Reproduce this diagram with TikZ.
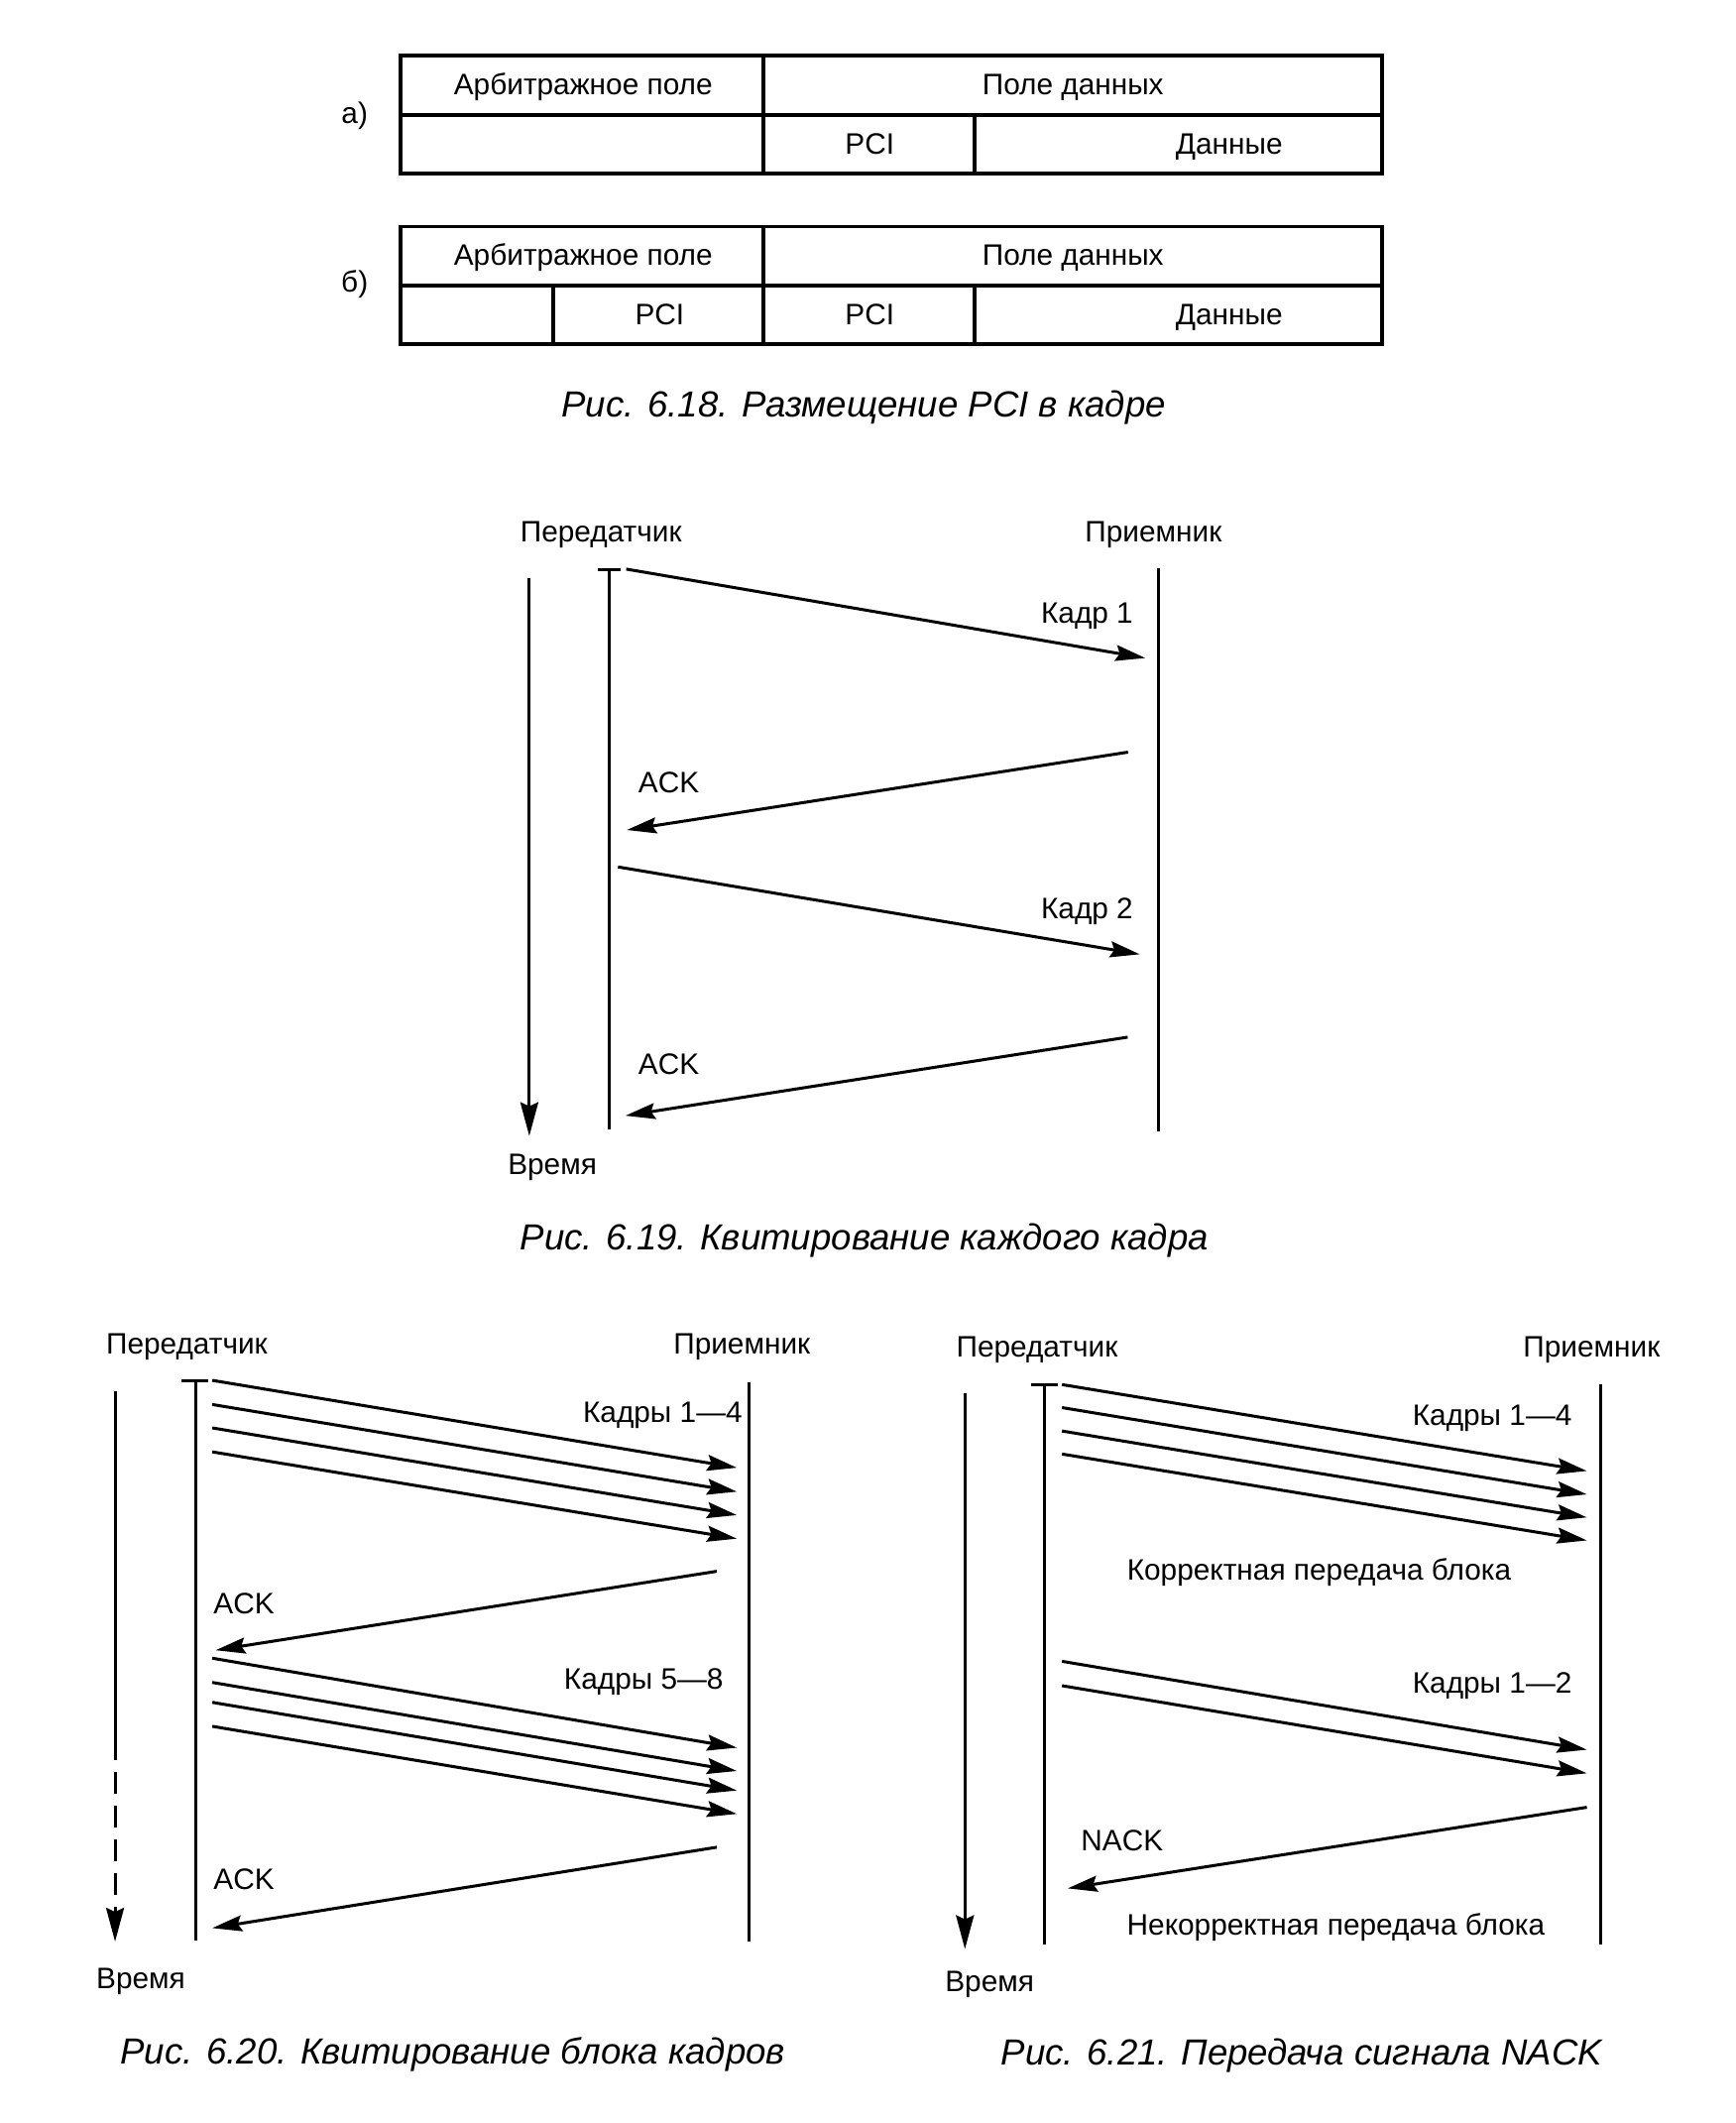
\documentclass[tikz,border=0pt]{standalone}
\usepackage{fontspec}
\setmainfont{Liberation Sans}
\usetikzlibrary{arrows.meta}
\begin{document}
\begin{tikzpicture}[x=1.3651pt,y=-1.3651pt,
  lbl/.style={font=\fontsize{29.8}{36}\selectfont, inner sep=0pt, text height=0.716em, text depth=0pt, yshift=-6.5pt},
  capt/.style={font=\fontsize{36.6}{44}\selectfont\itshape, inner sep=0pt, text height=0.716em, text depth=0pt, yshift=-9pt},
  ln/.style={line width=3pt},
  arr/.style={line width=3pt, -{Stealth[length=30pt,width=16pt,inset=4pt]}},
  tarr/.style={line width=3pt, -{Stealth[length=34pt,width=18pt,inset=4pt]}},
  tbl/.style={line width=3.8pt}]
\useasboundingbox (0,0) rectangle (1282,1568);

% ---------- Fig 6.18 ----------
\draw[tbl] (295.7,40.8) rectangle (1021.2,128.2);
\draw[tbl] (295.7,85) -- (1021.2,85);
\draw[tbl] (564,40.8) -- (564,128.2);
\draw[tbl] (719.7,85) -- (719.7,128.2);
\node[lbl] (la) at (262,84) {а)};
\node[lbl] (a11) at (430.8,62.3) {Арбитражное поле};
\node[lbl] (a12) at (792.6,62.3) {Поле данных};
\node[lbl] (a21) at (642.5,106.5) {PCI};
\node[lbl] (a22) at (908,106.5) {Данные};

\draw[tbl] (295.7,167.3) rectangle (1021.2,254);
\draw[tbl] (295.7,211.2) -- (1021.2,211.2);
\draw[tbl] (564,167.3) -- (564,254);
\draw[tbl] (408.8,211.2) -- (408.8,254);
\draw[tbl] (719.7,211.2) -- (719.7,254);
\node[lbl] (lb) at (262,208) {б)};
\node[lbl] (b11) at (430.8,188.5) {Арбитражное поле};
\node[lbl] (b12) at (792.6,188.5) {Поле данных};
\node[lbl] (b20) at (487.3,232.5) {PCI};
\node[lbl] (b21) at (642.5,232.5) {PCI};
\node[lbl] (b22) at (908,232.5) {Данные};
\node[capt] (c18) at (638,299) {Рис. 6.18. Размещение PCI в кадре};

% ---------- Fig 6.19 ----------
\node[lbl] (t1) at (444,393) {Передатчик};
\node[lbl] (r1) at (852,393) {Приемник};
\coordinate (ta1) at (391,427);
\coordinate (tb1) at (391,839);
\draw[tarr] (ta1) -- (tb1);
\node[lbl] (v1) at (408,860) {Время};
\coordinate (s1t) at (450,420.5);
\coordinate (s1b) at (450,834);
\draw[ln] (s1t) -- (s1b);
\draw[ln] (441.8,420.5) -- (458.6,420.5);
\coordinate (q1t) at (856,420);
\coordinate (q1b) at (856,835.5);
\draw[ln] (q1t) -- (q1b);
\coordinate (k1s) at (462.6,420.3); \coordinate (k1e) at (846,486);
\draw[arr] (k1s) -- (k1e);
\node[lbl] (k1l) at (803,453) {Кадр 1};
\coordinate (a1s) at (833.3,555.5); \coordinate (a1e) at (463,613);
\draw[arr] (a1s) -- (a1e);
\node[lbl] (a1l) at (494,578) {ACK};
\coordinate (k2s) at (456.5,640.3); \coordinate (k2e) at (842,704.8);
\draw[arr] (k2s) -- (k2e);
\node[lbl] (k2l) at (803,671) {Кадр 2};
\coordinate (a2s) at (833,766); \coordinate (a2e) at (462,824);
\draw[arr] (a2s) -- (a2e);
\node[lbl] (a2l) at (494,786) {ACK};
\node[capt] (c19) at (638.5,914) {Рис. 6.19. Квитирование каждого кадра};

% ---------- Fig 6.20 ----------
\node[lbl] (t2) at (138,993) {Передатчик};
\node[lbl] (r2) at (548,993) {Приемник};
\coordinate (ta2) at (85,1027.5);
\coordinate (tm2) at (85,1284);
\coordinate (tb2) at (85,1434);
\draw[ln] (ta2) -- (tm2);
\draw[tarr, dash pattern=on 22pt off 12pt] (tm2) -- (tb2);
\node[lbl] (v2) at (104,1461) {Время};
\coordinate (s2t) at (144.5,1019.5);
\coordinate (s2b) at (144.5,1433);
\draw[ln] (s2t) -- (s2b);
\draw[ln] (134,1019.5) -- (153.5,1019.5);
\coordinate (q2t) at (553,1021);
\coordinate (q2b) at (553,1434);
\draw[ln] (q2t) -- (q2b);
\foreach \i/\ys/\ye in {1/1019.5/1084,2/1037.3/1101.7,3/1054.6/1119,4/1072.3/1136.4}{
  \coordinate (f\i s) at (156.8,\ys);
  \coordinate (f\i e) at (544.3,\ye);
  \draw[arr] (f\i s) -- (f\i e);
}
\node[lbl] (f14) at (489.5,1043.5) {Кадры 1—4};
\coordinate (ack1s) at (529.5,1160.5); \coordinate (ack1e) at (159.3,1218.8);
\draw[arr] (ack1s) -- (ack1e);
\node[lbl] (ack1l) at (180.2,1184.5) {ACK};
\foreach \i/\ys/\ye in {5/1224.7/1290.8,6/1242.6/1308,7/1257.3/1322.4,8/1275/1339.7}{
  \coordinate (f\i s) at (156.8,\ys);
  \coordinate (f\i e) at (544.3,\ye);
  \draw[arr] (f\i s) -- (f\i e);
}
\node[lbl] (f58) at (475.5,1240) {Кадры 5—8};
\coordinate (ack2s) at (529.5,1364.3); \coordinate (ack2e) at (156.8,1424);
\draw[arr] (ack2s) -- (ack2e);
\node[lbl] (ack2l) at (180.2,1388.2) {ACK};
\node[capt] (c20) at (334.5,1515) {Рис. 6.20. Квитирование блока кадров};

% ---------- Fig 6.21 ----------
\node[lbl] (t3) at (766,994.8) {Передатчик};
\node[lbl] (r3) at (1175.7,994.8) {Приемник};
\coordinate (ta3) at (712.8,1029);
\coordinate (tb3) at (712.8,1439.5);
\draw[tarr] (ta3) -- (tb3);
\node[lbl] (v3) at (731,1463.5) {Время};
\coordinate (s3t) at (771.4,1022.6);
\coordinate (s3b) at (771.4,1436);
\draw[ln] (s3t) -- (s3b);
\draw[ln] (761.4,1022.6) -- (781.6,1022.6);
\coordinate (q3t) at (1182.2,1022.6);
\coordinate (q3b) at (1182.2,1436);
\draw[ln] (q3t) -- (q3b);
\foreach \i/\ys/\ye in {1/1022.6/1086.4,2/1039.6/1103.7,3/1056.9/1120.7,4/1073.9/1137.7}{
  \coordinate (g\i s) at (784.5,\ys);
  \coordinate (g\i e) at (1172.2,\ye);
  \draw[arr] (g\i s) -- (g\i e);
}
\node[lbl] (g14) at (1102.3,1045.4) {Кадры 1—4};
\node[lbl] (ok) at (974.4,1159.3) {Корректная передача блока};
\foreach \i/\ys/\ye in {5/1227/1292.3,6/1245/1309.7}{
  \coordinate (g\i s) at (784.5,\ys);
  \coordinate (g\i e) at (1172.2,\ye);
  \draw[arr] (g\i s) -- (g\i e);
}
\node[lbl] (g12) at (1102.3,1243.3) {Кадры 1—2};
\coordinate (nas) at (1172.2,1334.8); \coordinate (nae) at (788.7,1394.7);
\draw[arr] (nas) -- (nae);
\node[lbl] (nal) at (828.9,1359.4) {NACK};
\node[lbl] (bad) at (986.8,1422) {Некорректная передача блока};
\node[capt] (c21) at (961.5,1516) {Рис. 6.21. Передача сигнала NACK};
\end{tikzpicture}
\end{document}
